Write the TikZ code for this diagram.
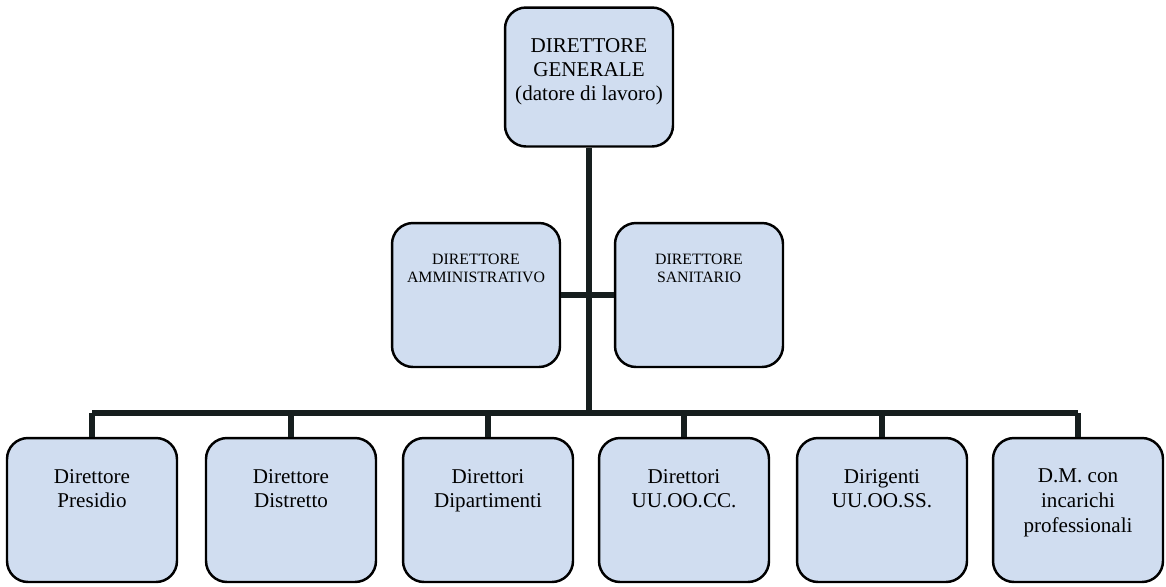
\documentclass[tikz,border=0pt]{standalone}
\usepackage{fontspec}
\setmainfont{Liberation Serif}
\usepackage{tikz}

\definecolor{boxblue}{RGB}{208,221,240}
\definecolor{linkdark}{RGB}{22,30,30}

\tikzset{
    orgbox/.style={draw=black, line width=1.4pt, rounded corners=0.42cm,
        fill=boxblue, minimum width=3.4cm, minimum height=2.88cm, inner sep=0pt},
    boxtext/.style={anchor=north, align=center, yshift=-0.64cm, inner sep=0pt},
    link/.style={draw=linkdark, line width=3pt}
}

\begin{document}
\begin{tikzpicture}[x=0.02cm, y=-0.02cm]
    \useasboundingbox (0,0) rectangle (1166,586);

    % Draw the top box
    \node[orgbox, minimum width=3.36cm, minimum height=2.78cm,
          label={[boxtext, font=\fontsize{12}{13.5}\selectfont]north:{DIRETTORE\\GENERALE\\(datore di lavoro)}}]
        (dg) at (589,77) {};

    % Draw the two middle boxes
    \node[orgbox, minimum width=3.36cm,
          label={[boxtext, font=\fontsize{9}{10}\selectfont]north:{DIRETTORE\\AMMINISTRATIVO}}]
        (da) at (476,295) {};
    \node[orgbox, minimum width=3.36cm,
          label={[boxtext, font=\fontsize{9}{10}\selectfont]north:{DIRETTORE\\SANITARIO}}]
        (ds) at (699,295) {};

    % Draw the bottom row
    \foreach \i/\x/\label in {1/92/{Direttore\\Presidio}, 2/291/{Direttore\\Distretto},
                              3/488/{Direttori\\Dipartimenti}, 4/684/{Direttori\\UU.OO.CC.},
                              5/882/{Dirigenti\\UU.OO.SS.}, 6/1078/{D.M. con\\incarichi\\professionali}} {
        \node[orgbox, label={[boxtext, font=\fontsize{12}{14}\selectfont]north:{\label}}]
            (b\i) at (\x,510) {};
    }

    % Draw the connectors
    \coordinate (bus) at (589,413);
    \draw[link] (dg.south) -- (dg.south |- bus);
    \draw[link] (da.east) -- (ds.west);
    \draw[link] (b1.north |- bus) -- (b6.north |- bus);
    \foreach \i in {1,...,6} {
        \draw[link] (b\i.north) -- (b\i.north |- bus);
    }

\end{tikzpicture}
\end{document}
